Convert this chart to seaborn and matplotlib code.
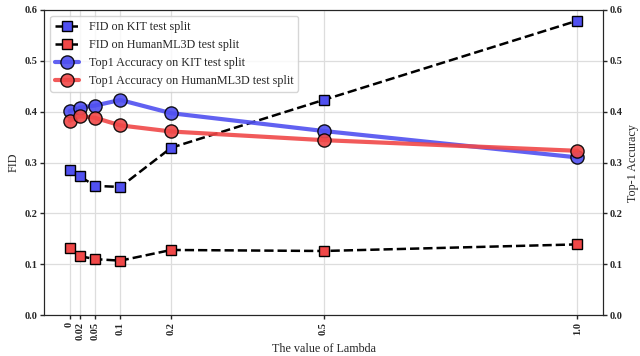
import matplotlib
matplotlib.use("Agg")
import matplotlib.pyplot as plt
import seaborn as sns
import numpy as np

lambdas = [0, 0.02, 0.05, 0.1, 0.2, 0.5, 1.0]
tick_labels = ["0", "0.02", "0.05", "0.1", "0.2", "0.5", "1.0"]
fid_kit = [0.286, 0.273, 0.254, 0.252, 0.329, 0.423, 0.579]
fid_hml = [0.131, 0.116, 0.110, 0.107, 0.128, 0.126, 0.139]
top1_kit = [0.401, 0.408, 0.412, 0.423, 0.397, 0.362, 0.310]
top1_hml = [0.382, 0.391, 0.388, 0.373, 0.361, 0.344, 0.323]

sns.set_style("ticks")
plt.rcParams["font.family"] = ["Liberation Serif", "DejaVu Serif"]

blue = "#5050f0"
red = "#f04848"

fig = plt.figure(figsize=(6.4, 3.56), dpi=100)
ax = fig.add_axes([0.069, 0.115, 0.873, 0.857])
ax2 = ax.twinx()

sns.lineplot(x=lambdas, y=fid_kit, ax=ax, color="black", linestyle="--", lw=1.8,
             marker="s", markersize=7, markerfacecolor=blue, markeredgecolor="black",
             markeredgewidth=1.0, label="FID on KIT test split", legend=False)
sns.lineplot(x=lambdas, y=fid_hml, ax=ax, color="black", linestyle="--", lw=1.8,
             marker="s", markersize=7, markerfacecolor=red, markeredgecolor="black",
             markeredgewidth=1.0, label="FID on HumanML3D test split", legend=False)
sns.lineplot(x=lambdas, y=top1_kit, ax=ax2, color=blue, lw=3, alpha=0.9,
             marker="o", markersize=9.5, markerfacecolor=blue, markeredgecolor="black",
             markeredgewidth=1.0, label="Top1 Accuracy on KIT test split", legend=False)
sns.lineplot(x=lambdas, y=top1_hml, ax=ax2, color=red, lw=3, alpha=0.9,
             marker="o", markersize=9.5, markerfacecolor=red, markeredgecolor="black",
             markeredgewidth=1.0, label="Top1 Accuracy on HumanML3D test split", legend=False)

for a in (ax, ax2):
    a.set_ylim(0, 0.6)
    a.set_yticks(np.arange(0, 0.61, 0.1))
    a.set_yticklabels([f"{v:.1f}" for v in np.arange(0, 0.61, 0.1)], fontweight="bold", fontsize=7.5)
    a.tick_params(axis="y", length=3, width=1, pad=2)

ax.set_xlim(-0.05, 1.05)
ax.set_xticks(lambdas)
ax.set_xticklabels(tick_labels, rotation=90, fontweight="bold", fontsize=7.5)
ax.tick_params(axis="x", length=3, width=1, pad=2)
ax.grid(True, color="#dddddd", lw=0.9)
ax.set_axisbelow(True)

ax.set_xlabel("The value of Lambda", fontsize=8.7, labelpad=2)
ax.set_ylabel("FID", fontsize=8.7, labelpad=3)
ax2.set_ylabel("Top-1 Accuracy", fontsize=8.7, labelpad=3)

h1, l1 = ax.get_legend_handles_labels()
h2, l2 = ax2.get_legend_handles_labels()
ax2.legend(h1 + h2, l1 + l2, loc="upper left", fontsize=8.7, frameon=True,
           handlelength=2.0, borderaxespad=0.5, labelspacing=0.5)

fig.savefig("out.png", dpi=100)
